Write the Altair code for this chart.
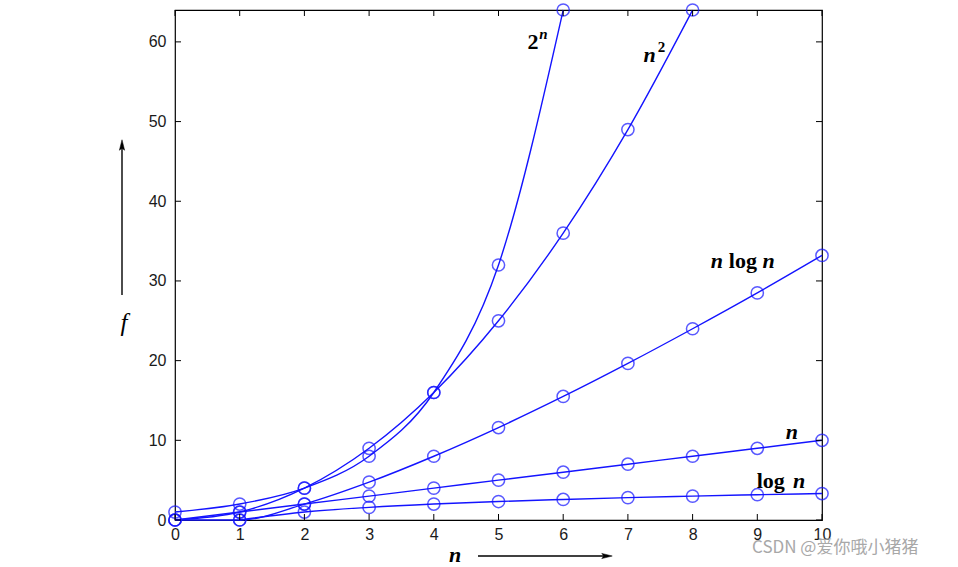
import altair as alt
import pandas as pd

# ---- data ----
n_all = list(range(11))
pow2_vals = [1, 2, 4, 8, 16, 32, 64]                 # n = 0..6
sq_vals = [0, 1, 4, 9, 16, 25, 36, 49, 64]           # n = 0..8
nlogn_vals = [0, 0, 2, 4.75, 8, 11.6, 15.5, 19.65, 24, 28.5, 33.2]  # n = 0..10
lin_vals = [0, 1, 2, 3, 4, 5, 6, 7, 8, 9, 10]        # n = 0..10
logn_vals = [0, 1, 1.58, 2, 2.32, 2.58, 2.81, 3, 3.17, 3.32]          # n = 1..10

x_ticks = list(range(11))
y_ticks = [0, 10, 20, 30, 40, 50, 60]

# curve annotations (data coordinates)
lab_text = ["2", "n", "n", "2", "n", "log", "n", "n", "log", "n"]
lab_x = [5.45, 5.63, 7.24, 7.46, 8.28, 8.56, 9.08, 9.44, 8.99, 9.55]
lab_y = [60.0, 61.0, 58.3, 59.4, 32.5, 32.5, 32.5, 11.0, 4.9, 4.9]
lab_style = ["up", "supit", "it", "supup", "it", "up", "it", "it", "up", "it"]

rows = []
for s, xs, ys in [("2^n", n_all[:7], pow2_vals), ("n^2", n_all[:9], sq_vals),
                  ("nlogn", n_all, nlogn_vals), ("n", n_all, lin_vals),
                  ("logn", n_all[1:], logn_vals)]:
    for a, b in zip(xs, ys):
        rows.append({"n": a, "f": b, "series": s})
df = pd.DataFrame(rows)

labels = pd.DataFrame({"x": lab_x, "y": lab_y, "text": lab_text, "style": lab_style})

BLUE = "#1414ff"
W, H = 647, 510

xscale = alt.Scale(domain=[0, 10], nice=False)
yscale = alt.Scale(domain=[0, 64], nice=False)

xaxis = alt.Axis(values=x_ticks, ticks=False, domain=False, grid=False, title=None,
                 format="d", labelFont="Liberation Sans", labelFontSize=16,
                 labelColor="#1a1a1a", labelPadding=6, labelFlush=False)
yaxis = alt.Axis(values=y_ticks, ticks=False, domain=False, grid=False, title=None,
                 format="d", labelFont="Liberation Sans", labelFontSize=16,
                 labelColor="#1a1a1a", labelPadding=9)

base = alt.Chart(df)
lines = base.mark_line(color=BLUE, strokeWidth=1.4, interpolate="monotone").encode(
    x=alt.X("n:Q", scale=xscale, axis=xaxis),
    y=alt.Y("f:Q", scale=yscale, axis=yaxis),
    detail="series:N",
)
points = base.mark_point(shape="circle", size=150, color=BLUE, strokeWidth=1.5,
                         filled=False, clip=False).encode(x="n:Q", y="f:Q")

# inner ticks on all four sides
xt = alt.Chart(pd.DataFrame({"n": x_ticks}))
yt = alt.Chart(pd.DataFrame({"f": y_ticks}))
tick_b = xt.mark_rule(color="black", strokeWidth=1).encode(x="n:Q", y=alt.value(H), y2=alt.value(H - 6))
tick_t = xt.mark_rule(color="black", strokeWidth=1).encode(x="n:Q", y=alt.value(0), y2=alt.value(6))
tick_l = yt.mark_rule(color="black", strokeWidth=1).encode(y="f:Q", x=alt.value(0), x2=alt.value(6))
tick_r = yt.mark_rule(color="black", strokeWidth=1).encode(y="f:Q", x=alt.value(W - 6), x2=alt.value(W))

lab = alt.Chart(labels)
FONT = "Liberation Serif"
t_it = lab.transform_filter(alt.datum.style == "it").mark_text(
    font=FONT, fontSize=22, fontWeight="bold", fontStyle="italic", align="left",
    baseline="middle", color="black").encode(x="x:Q", y="y:Q", text="text:N")
t_up = lab.transform_filter(alt.datum.style == "up").mark_text(
    font=FONT, fontSize=22, fontWeight="bold", align="left",
    baseline="middle", color="black").encode(x="x:Q", y="y:Q", text="text:N")
t_supit = lab.transform_filter(alt.datum.style == "supit").mark_text(
    font=FONT, fontSize=15, fontWeight="bold", fontStyle="italic", align="left",
    baseline="middle", color="black").encode(x="x:Q", y="y:Q", text="text:N")
t_supup = lab.transform_filter(alt.datum.style == "supup").mark_text(
    font=FONT, fontSize=15, fontWeight="bold", align="left",
    baseline="middle", color="black").encode(x="x:Q", y="y:Q", text="text:N")

# axis titles and arrows (decorations outside the plot area)
one = alt.Chart(pd.DataFrame({"k": [0]}))
f_title = one.mark_text(text="f", font=FONT, fontSize=25, fontStyle="italic",
                        color="black", align="center", baseline="middle").encode(
    x=alt.value(-51), y=alt.value(313))
n_title = one.mark_text(text="n", font=FONT, fontSize=22, fontStyle="italic", fontWeight="bold",
                        color="black", align="center", baseline="middle").encode(
    x=alt.value(280), y=alt.value(545))
y_arrow = one.mark_rule(color="black", strokeWidth=1.4).encode(
    x=alt.value(-53), y=alt.value(285), y2=alt.value(138))
y_head = one.mark_point(shape="M0,-1L-0.5,1L0,0.6L0.5,1Z", size=110, filled=True,
                        fill="black", stroke="black", strokeWidth=0.5, opacity=1).encode(
    x=alt.value(-53), y=alt.value(135))
x_arrow = one.mark_rule(color="black", strokeWidth=1.4).encode(
    x=alt.value(303), x2=alt.value(432), y=alt.value(546))
x_head = one.mark_point(shape="M1,0L-1,-0.5L-0.6,0L-1,0.5Z", size=110, filled=True,
                        fill="black", stroke="black", strokeWidth=0.5, opacity=1).encode(
    x=alt.value(432), y=alt.value(546))
watermark = one.mark_text(text="CSDN @爱你哦小猪猪", font="Noto Sans CJK SC", fontSize=17,
                          color="#a8a8a8", align="left", baseline="middle").encode(
    x=alt.value(577), y=alt.value(538))

chart = alt.layer(
    lines, points, tick_b, tick_t, tick_l, tick_r,
    t_it, t_up, t_supit, t_supup,
    f_title, n_title, y_arrow, y_head, x_arrow, x_head, watermark,
).properties(
    width=W, height=H,
    autosize=alt.AutoSizeParams(type="none"),
    padding={"left": 175, "top": 10, "right": 136, "bottom": 47},
    background="white",
).configure_view(stroke="black", strokeWidth=1.2)

chart.save("out.html", embed_options={"renderer": "svg", "actions": False})
